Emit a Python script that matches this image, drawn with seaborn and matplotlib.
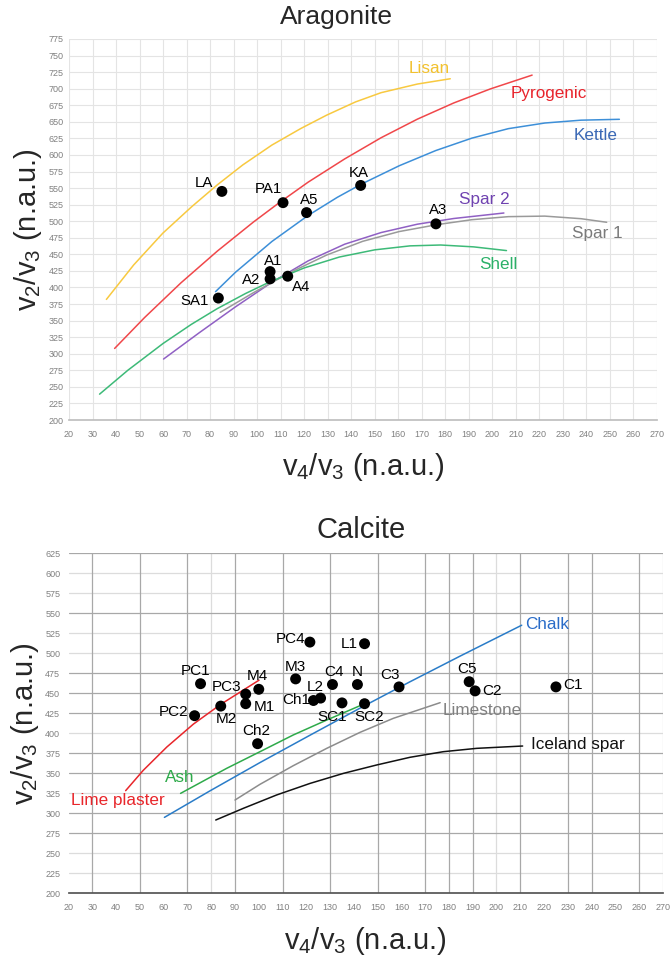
import numpy as np
import pandas as pd
import matplotlib
matplotlib.use("Agg")
import matplotlib.pyplot as plt
import seaborn as sns

# ---------------- Aragonite data ----------------
arag_names = ["LA", "PA1", "A5", "KA", "A3", "SA1", "A1", "A2", "A4"]
arag_x = [85, 111, 121, 144, 176, 83.5, 105.5, 105.5, 113]
arag_y = [545, 528, 513, 554, 496, 384, 424, 413, 417]
arag_lab_x = [77.4, 104.8, 122.2, 143, 177, 73.3, 106.6, 97.3, 118.5]
arag_lab_y = [557, 548, 532, 573, 517, 380, 440, 412, 400]

lisan_x = [35.9, 47.5, 59.9, 72.2, 83.1, 93.9, 106.3, 118.6, 129.5, 141.8, 152.7, 168.1, 182.1]
lisan_y = [382, 434, 482, 522, 555, 585, 615, 640, 660, 680, 694, 707, 715]
pyro_x = [39.4, 52.1, 67.6, 83.1, 98.5, 109.4, 121.7, 137.2, 152.7, 168.1, 183.6, 199.1, 216.9]
pyro_y = [308, 354.5, 407, 455, 499, 528, 559, 594, 626, 654, 678.5, 699.6, 720.5]
kettle_x = [82.3, 90.8, 106.3, 121.7, 134.1, 144.2, 160.4, 175.9, 191.3, 206.8, 222.3, 237.7, 254]
kettle_y = [393.7, 423, 469.5, 508.8, 536.1, 555.8, 583.7, 606.6, 625.4, 639.7, 648.2, 652.5, 653.8]
spar2_x = [60.2, 75.3, 90.8, 106.3, 121.7, 137.2, 152.7, 168.1, 183.6, 204.9]
spar2_y = [292, 331.5, 370.8, 408, 440.2, 465.3, 482.9, 495.5, 504.1, 512.4]
spar1_x = [84.3, 98.5, 114, 129.5, 144.9, 160.4, 176.6, 191.3, 206.8, 222.3, 237.7, 248.6]
spar1_y = [362.5, 392.3, 422.5, 448.9, 469.7, 484.4, 494.9, 502.3, 506.9, 507.7, 503.8, 498.4]
shell_x = [33, 45, 60, 72, 83, 95, 105, 120, 135, 150, 165, 178, 192, 206]
shell_y = [239, 275, 315.5, 344.3, 368, 390.8, 407.8, 429.5, 446, 456.8, 462.8, 464.1, 461.3, 455.7]

arag_curves = ["Lisan", "Pyrogenic", "Kettle", "Spar 2", "Spar 1", "Shell"]
arag_line_colors = ["#f8c940", "#f0474a", "#3d8fd8", "#9060c4", "#9a9a9a", "#3dba78"]
arag_text_colors = ["#f2c12e", "#e8232b", "#3a68b5", "#6f42b0", "#7a7a7a", "#2bb068"]
arag_curve_lab_x = [173, 224, 244, 196.5, 244.5, 202.5]
arag_curve_lab_y = [731, 693, 629, 533, 481, 435]

# ---------------- Calcite data ----------------
calc_names = ["PC4", "L1", "PC1", "PC2", "M2", "PC3", "M1", "M4", "Ch2", "M3",
              "Ch1", "L2", "C4", "SC1", "N", "SC2", "C3", "C5", "C2", "C1"]
calc_x = [121.5, 144.5, 75.5, 73, 84, 94.5, 94.5, 100, 99.5, 115.5,
          123, 126, 131, 135, 141.5, 144.5, 159, 188.5, 191, 225]
calc_y = [514, 512, 462, 422, 434, 449, 437, 455, 387, 468,
          441, 444, 461, 438, 461, 437, 458, 464.5, 453, 458]
calc_lab_x = [113.2, 138, 73.6, 64, 86.5, 86.5, 102.3, 99.4, 98.8, 115.4,
              115.7, 123.7, 131.7, 130.7, 141.6, 146.5, 155.2, 187.5, 198, 232]
calc_lab_y = [517.5, 511.6, 478, 427, 417.5, 458, 433, 471.6, 403, 483,
              441.6, 458, 476, 420, 477, 420, 473, 480, 453, 460]

lime_x = [44, 51.4, 61.3, 72.5, 84.1, 100.1]
lime_y = [328.3, 353.7, 382.8, 411.5, 436.4, 466.4]
ash_x = [67.1, 86.5, 100.5, 114.5, 128.6, 143.3]
ash_y = [324.9, 356.2, 377, 397.9, 416.6, 435.4]
chalk_x = [60.3, 79.5, 100.5, 121.6, 144.3, 163.6, 184.7, 210.6]
chalk_y = [294.9, 328.1, 363.4, 397.7, 434.2, 464.4, 496.5, 535.1]
limestone_x = [90, 100.5, 114.5, 128.6, 142.6, 156.6, 176.3]
limestone_y = [316.6, 336.2, 359.5, 381.2, 401.2, 418.7, 438.3]
iceland_x = [81.9, 93.5, 107.5, 121.6, 135.6, 149.6, 163.6, 177.6, 191.7, 211]
iceland_y = [291.6, 306.2, 322.9, 337.4, 349.9, 360.4, 370, 377, 381.2, 384.1]

calc_curves = ["Lime plaster", "Ash", "Chalk", "Limestone", "Iceland spar"]
calc_line_colors = ["#e8262b", "#2eaa4a", "#2a7cc8", "#8c8c8c", "#111111"]
calc_text_colors = ["#e8262b", "#2eaa4a", "#2a6cc8", "#808080", "#111111"]
calc_curve_lab_x = [40.9, 66.9, 221.4, 194.2, 234.4]
calc_curve_lab_y = [316.6, 345, 536.6, 429, 385.4]


def curves_frame(names, xs, ys):
    parts = []
    for n, x, y in zip(names, xs, ys):
        parts.append(pd.DataFrame({"curve": n, "x": x, "y": y}))
    return pd.concat(parts, ignore_index=True)


arag_df = curves_frame(arag_curves,
                       [lisan_x, pyro_x, kettle_x, spar2_x, spar1_x, shell_x],
                       [lisan_y, pyro_y, kettle_y, spar2_y, spar1_y, shell_y])
calc_df = curves_frame(calc_curves,
                       [lime_x, ash_x, chalk_x, limestone_x, iceland_x],
                       [lime_y, ash_y, chalk_y, limestone_y, iceland_y])

sns.set_theme(style="white")
plt.rcParams["font.family"] = ["Liberation Sans", "DejaVu Sans"]
plt.rcParams["mathtext.fontset"] = "custom"
plt.rcParams["mathtext.rm"] = "Liberation Sans"
plt.rcParams["mathtext.it"] = "Liberation Sans"
plt.rcParams["lines.solid_joinstyle"] = "round"

fig = plt.figure(figsize=(6.72, 9.57), dpi=100)
ax1 = fig.add_axes([69 / 672, 1 - 420 / 957, 588 / 672, 381 / 957])
ax2 = fig.add_axes([68.6 / 672, 1 - 893.3 / 957, 594.3 / 672, 340 / 957])

ylab = r"$\mathregular{v_2/v_3}$ (n.a.u.)"
xlab = r"$\mathregular{v_4/v_3}$ (n.a.u.)"
tick_color = "#808080"

# ---------- Aragonite ----------
ax = ax1
for xv in range(20, 271, 10):
    ax.axvline(xv, color="#e4e4e4", lw=0.8, zorder=0)
for yv in range(200, 776, 25):
    ax.axhline(yv, color="#e4e4e4", lw=0.8, zorder=0)
sns.lineplot(data=arag_df, x="x", y="y", hue="curve", hue_order=arag_curves,
             palette=arag_line_colors, sort=False, estimator=None, legend=False,
             lw=1.1, ax=ax)
sns.scatterplot(x=arag_x, y=arag_y, color="black", s=62, edgecolor="none",
                zorder=5, ax=ax)
for n, lx, ly in zip(arag_names, arag_lab_x, arag_lab_y):
    ax.text(lx, ly, n, fontsize=10.8, ha="center", va="center", color="black")
for n, lx, ly, c in zip(arag_curves, arag_curve_lab_x, arag_curve_lab_y, arag_text_colors):
    ax.text(lx, ly, n, fontsize=12.3, ha="center", va="center", color=c)
ax.set_xlim(20, 270)
ax.set_ylim(200, 775)
ax.set_xticks(range(20, 271, 10))
ax.set_yticks(range(200, 776, 25))
ax.set_xticks(range(25, 271, 10), minor=True)
ax.tick_params(axis="both", labelsize=6.5, colors=tick_color, length=0, pad=4)
ax.tick_params(axis="x", which="both", direction="in", length=2.5, color="#bfbfbf", pad=7)
ax.tick_params(axis="x", which="minor", length=2)
for s in ["top", "right", "left"]:
    ax.spines[s].set_visible(False)
ax.spines["bottom"].set_color("#bfbfbf")
ax.set_xlabel(xlab, fontsize=21, labelpad=9)
ax.set_ylabel(ylab, fontsize=21, labelpad=3)
ax.set_title("Aragonite", fontsize=19, pad=11, x=(336 - 69) / 588)

# ---------- Calcite ----------
ax = ax2
dark_x = [30, 50, 70, 90, 110, 130, 150, 170, 180, 190, 210, 230, 240, 260]
light_x = [80, 200, 270]
dark_y = [625, 550, 475, 450, 425, 375, 350, 300, 275]
light_y = [600, 575, 525, 500, 400, 325, 250, 225]
for xv in light_x:
    ax.axvline(xv, color="#dcdcdc", lw=0.9, zorder=0)
for yv in light_y:
    ax.axhline(yv, color="#dcdcdc", lw=0.9, zorder=0)
for xv in dark_x:
    ax.axvline(xv, color="#a8a8a8", lw=0.9, zorder=0)
for yv in dark_y:
    ax.axhline(yv, color="#a8a8a8", lw=0.9, zorder=0)
sns.lineplot(data=calc_df, x="x", y="y", hue="curve", hue_order=calc_curves,
             palette=calc_line_colors, sort=False, estimator=None, legend=False,
             lw=1.1, ax=ax)
sns.scatterplot(x=calc_x, y=calc_y, color="black", s=62, edgecolor="none",
                zorder=5, ax=ax)
for n, lx, ly in zip(calc_names, calc_lab_x, calc_lab_y):
    ax.text(lx, ly, n, fontsize=11, ha="center", va="center", color="black")
for n, lx, ly, c in zip(calc_curves, calc_curve_lab_x, calc_curve_lab_y, calc_text_colors):
    ax.text(lx, ly, n, fontsize=12.3, ha="center", va="center", color=c)
ax.set_xlim(20, 270)
ax.set_ylim(200, 625)
ax.set_xticks(range(20, 271, 10))
ax.set_yticks(range(200, 626, 25))
ax.set_xticks(range(25, 271, 10), minor=True)
ax.tick_params(axis="y", labelsize=6.5, colors=tick_color, length=4, direction="out",
               color="#555555", pad=2)
ax.tick_params(axis="x", which="both", labelsize=6.5, colors=tick_color, direction="in",
               length=3, color="#333333", pad=7)
ax.tick_params(axis="x", which="minor", length=2)
for s in ["top", "right", "left"]:
    ax.spines[s].set_visible(False)
ax.spines["bottom"].set_color("#555555")
ax.set_xlabel(xlab, fontsize=21, labelpad=9)
ax.set_ylabel(ylab, fontsize=21, labelpad=3)
ax.set_title("Calcite", fontsize=21, pad=11, x=(361.5 - 68.6) / 594.3)

fig.savefig("out.png", dpi=100)
